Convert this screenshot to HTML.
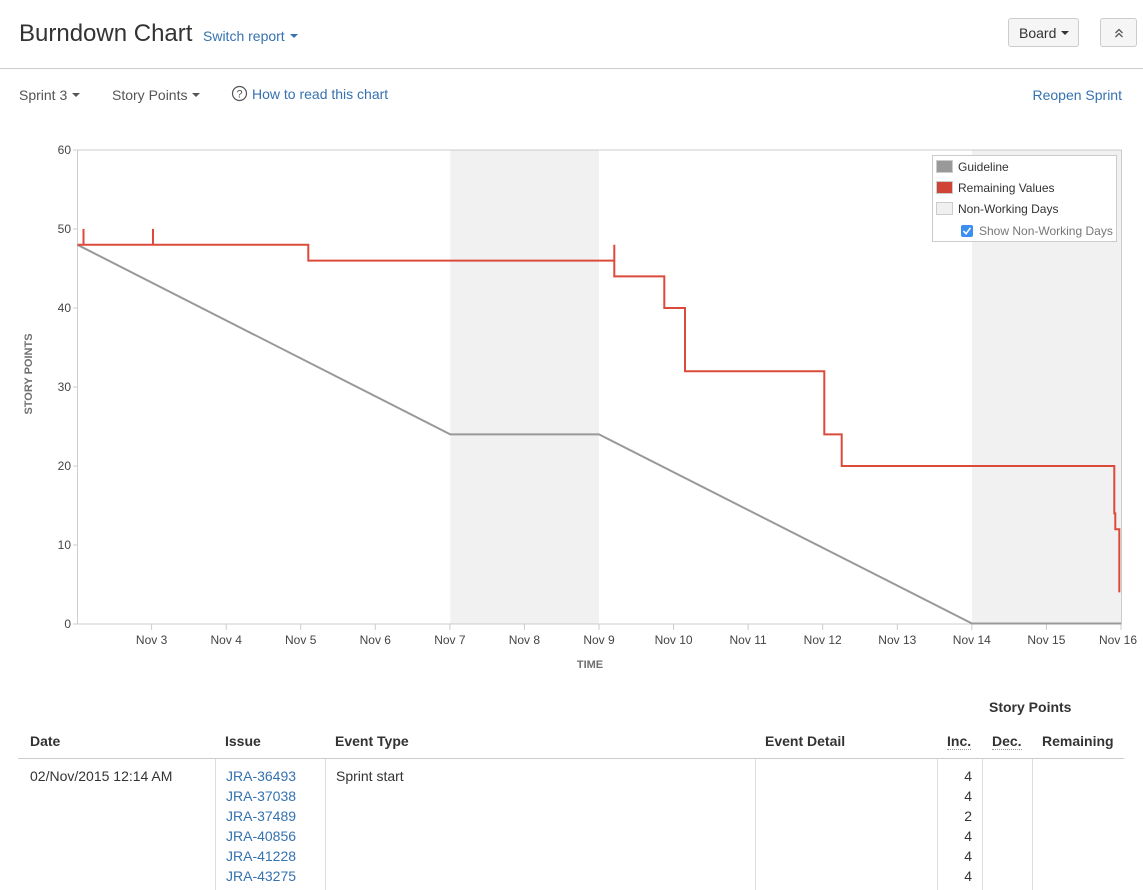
<!DOCTYPE html>
<html><head><meta charset="utf-8"><style>
html,body{margin:0;padding:0;background:#fff;width:1143px;height:890px;overflow:hidden;font-family:"Liberation Sans",Arial,sans-serif;color:#333;}
.a{position:absolute;white-space:nowrap;}
.blue{color:#3572b0;}
.caret{display:inline-block;width:0;height:0;border-left:4px solid transparent;border-right:4px solid transparent;border-top:4px solid currentColor;vertical-align:middle;margin-left:5px;position:relative;top:-1px;}
.btn{position:absolute;background:#f5f5f5;border:1px solid #ccc;border-radius:3px;box-sizing:border-box;}
.th{position:absolute;font-weight:bold;font-size:14px;color:#333;white-space:nowrap;}
.td{position:absolute;font-size:14px;line-height:20px;white-space:nowrap;}
.vl{position:absolute;width:1px;background:#ddd;top:759px;height:131px;}
</style></head><body>
<div class="a" style="left:19px;top:19px;font-size:24px;line-height:30px;color:#333;">Burndown Chart</div>
<div class="a blue" style="left:203px;top:27px;font-size:14px;line-height:18px;">Switch report<span class="caret" style="color:#3572b0"></span></div>
<div class="btn" style="left:1008px;top:18px;width:71px;height:29px;"><div class="a" style="left:10px;top:5px;font-size:14px;line-height:18px;color:#333;">Board<span class="caret" style="color:#333"></span></div></div>
<div class="btn" style="left:1100px;top:18px;width:37px;height:29px;"><svg width="37" height="29" style="position:absolute;left:0;top:0"><path d="M14.5,14 L18,10.5 L21.5,14 M14.5,18 L18,14.5 L21.5,18" stroke="#555" stroke-width="1.3" fill="none"/></svg></div>
<div class="a" style="left:0;top:68px;width:1143px;height:1px;background:#ccc;"></div>

<div class="a" style="left:19px;top:86px;font-size:14px;line-height:18px;color:#555;">Sprint 3<span class="caret"></span></div>
<div class="a" style="left:112px;top:86px;font-size:14px;line-height:18px;color:#555;">Story Points<span class="caret"></span></div>
<svg class="a" style="left:231px;top:85px" width="18" height="18"><circle cx="8.5" cy="8.5" r="7" fill="none" stroke="#555" stroke-width="1.2"/><text x="8.5" y="12.5" font-size="11" text-anchor="middle" fill="#555" font-family="Liberation Sans">?</text></svg>
<div class="a blue" style="left:252px;top:85px;font-size:14px;line-height:18px;">How to read this chart</div>
<div class="a blue" style="right:21px;top:86px;font-size:14px;line-height:18px;">Reopen Sprint</div>

<svg class="a" style="left:0;top:0" width="1143" height="690" font-family="Liberation Sans, Arial, sans-serif">
<rect x="450.3" y="150" width="148.7" height="474" fill="#f1f1f1"/>
<rect x="972" y="150" width="149.5" height="474" fill="#f1f1f1"/>
<rect x="77.5" y="150" width="1044" height="474" fill="none" stroke="#ccc" stroke-width="1"/>
<g stroke="#ccc" stroke-width="1">
<line x1="73" y1="150" x2="77.5" y2="150"/><line x1="73" y1="229" x2="77.5" y2="229"/><line x1="73" y1="308" x2="77.5" y2="308"/><line x1="73" y1="387" x2="77.5" y2="387"/><line x1="73" y1="466" x2="77.5" y2="466"/><line x1="73" y1="545" x2="77.5" y2="545"/><line x1="73" y1="624" x2="77.5" y2="624"/>
<line x1="151.6" y1="624" x2="151.6" y2="630"/><line x1="226.2" y1="624" x2="226.2" y2="630"/><line x1="300.7" y1="624" x2="300.7" y2="630"/><line x1="375.3" y1="624" x2="375.3" y2="630"/><line x1="449.9" y1="624" x2="449.9" y2="630"/><line x1="524.4" y1="624" x2="524.4" y2="630"/><line x1="599" y1="624" x2="599" y2="630"/><line x1="673.6" y1="624" x2="673.6" y2="630"/><line x1="748.1" y1="624" x2="748.1" y2="630"/><line x1="822.7" y1="624" x2="822.7" y2="630"/><line x1="897.3" y1="624" x2="897.3" y2="630"/><line x1="971.8" y1="624" x2="971.8" y2="630"/><line x1="1046.4" y1="624" x2="1046.4" y2="630"/><line x1="1121" y1="624" x2="1121" y2="630"/>
</g>
<g font-size="12" fill="#444" text-anchor="end">
<text x="71" y="154">60</text><text x="71" y="233">50</text><text x="71" y="312">40</text><text x="71" y="391">30</text><text x="71" y="470">20</text><text x="71" y="549">10</text><text x="71" y="628">0</text>
</g>
<g font-size="12" fill="#444" text-anchor="middle">
<text x="151.6" y="644">Nov 3</text><text x="226.2" y="644">Nov 4</text><text x="300.7" y="644">Nov 5</text><text x="375.3" y="644">Nov 6</text><text x="449.9" y="644">Nov 7</text><text x="524.4" y="644">Nov 8</text><text x="599" y="644">Nov 9</text><text x="673.6" y="644">Nov 10</text><text x="748.1" y="644">Nov 11</text><text x="822.7" y="644">Nov 12</text><text x="897.3" y="644">Nov 13</text><text x="971.8" y="644">Nov 14</text><text x="1046.4" y="644">Nov 15</text><text x="1118" y="644">Nov 16</text>
</g>
<text x="590" y="668" font-size="11" font-weight="bold" fill="#707070" text-anchor="middle">TIME</text>
<text x="0" y="0" font-size="11" font-weight="bold" fill="#707070" text-anchor="middle" transform="translate(32,374) rotate(-90)">STORY POINTS</text>
<path d="M77.5,244.8 L450.3,434.4 H599 L972,623.5 H1121" fill="none" stroke="#999" stroke-width="2"/>
<path d="M77.5,244.8 H83.5 V228.9 V244.8 H153 V228.9 V244.8 H308.3 V260.6 H614.3 V244.8 V276.4 H664.3 V308 H685 V371.2 H824.3 V434.4 H841.7 V466 H1114.3 V513.4 H1115.3 V529.2 H1119.3 V592.4" fill="none" stroke="#dc4a3c" stroke-width="2"/>
<rect x="932.5" y="155.5" width="184" height="86" fill="#fff" stroke="#ccc" stroke-width="1"/>
<rect x="936.5" y="160.5" width="16" height="12" fill="#999" stroke="#ccc"/>
<rect x="936.5" y="181.5" width="16" height="12" fill="#d04437" stroke="#ccc"/>
<rect x="936.5" y="202.5" width="16" height="12" fill="#f0f0f0" stroke="#ccc"/>
<g font-size="12" fill="#333">
<text x="958" y="171">Guideline</text><text x="958" y="192">Remaining Values</text><text x="958" y="213">Non-Working Days</text>
</g>
<rect x="961" y="225" width="12" height="12" rx="2" fill="#3b8ff0"/>
<path d="M963.5,231 L966,233.8 L970.5,227.8" stroke="#fff" stroke-width="1.6" fill="none"/>
<text x="979" y="235" font-size="12" fill="#777">Show Non-Working Days</text>
</svg>

<div class="th" style="left:989px;top:699px;">Story Points</div>
<div class="th" style="left:30px;top:733px;">Date</div>
<div class="th" style="left:225px;top:733px;">Issue</div>
<div class="th" style="left:335px;top:733px;">Event Type</div>
<div class="th" style="left:765px;top:733px;">Event Detail</div>
<div class="th" style="left:947px;top:733px;border-bottom:1px dotted #999;">Inc.</div>
<div class="th" style="left:992px;top:733px;border-bottom:1px dotted #999;">Dec.</div>
<div class="th" style="left:1042px;top:733px;">Remaining</div>
<div class="a" style="left:18px;top:758px;width:1106px;height:1px;background:#ccc;"></div>
<div class="vl" style="left:215px"></div>
<div class="vl" style="left:325px"></div>
<div class="vl" style="left:755px"></div>
<div class="vl" style="left:937px"></div>
<div class="vl" style="left:982px"></div>
<div class="vl" style="left:1032px"></div>
<div class="td" style="left:30px;top:766px;color:#333;">02/Nov/2015 12:14 AM</div>
<div class="td blue" style="left:226px;top:766px;">JRA-36493<br>JRA-37038<br>JRA-37489<br>JRA-40856<br>JRA-41228<br>JRA-43275</div>
<div class="td" style="left:336px;top:766px;color:#333;">Sprint start</div>
<div class="td" style="left:950px;top:766px;width:22px;text-align:right;color:#333;">4<br>4<br>2<br>4<br>4<br>4</div>
</body></html>
